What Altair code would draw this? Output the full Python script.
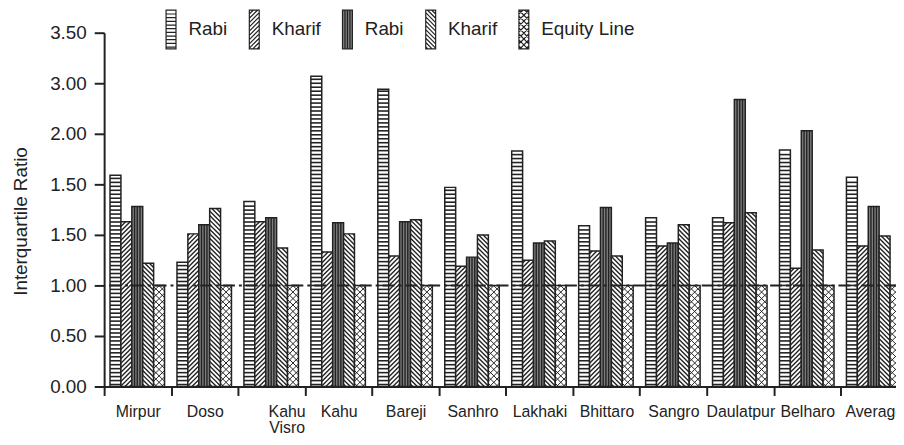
import json
import pandas as pd
import altair as alt

# ---------------- data ----------------
GROUPS = ["Mirpur", "Doso", "Kahu Visro", "Kahu", "Bareji", "Sanhro", "Lakhaki",
          "Bhittaro", "Sangro", "Daulatpur", "Belharo", "Average"]
SERIES_KEYS = ["Rabi 1", "Kharif 1", "Rabi 2", "Kharif 2", "Equity Line"]
LEGEND_LABELS = ["Rabi", "Kharif", "Rabi", "Kharif", "Equity Line"]

RABI_1 = [2.09, 1.23, 1.83, 3.07, 2.94, 1.97, 2.33, 1.59, 1.67, 1.67, 2.34, 2.07]
KHARIF_1 = [1.63, 1.51, 1.63, 1.33, 1.29, 1.19, 1.25, 1.34, 1.39, 1.62, 1.17, 1.39]
RABI_2 = [1.78, 1.60, 1.67, 1.62, 1.63, 1.28, 1.42, 1.77, 1.42, 2.84, 2.53, 1.78]
KHARIF_2 = [1.22, 1.76, 1.37, 1.51, 1.65, 1.50, 1.44, 1.29, 1.60, 1.72, 1.35, 1.49]
EQUITY = [1.00, 1.00, 1.00, 1.00, 1.00, 1.00, 1.00, 1.00, 1.00, 1.00, 1.00, 1.00]
EQUITY_LEVEL = [1.00]

Y_TICKS = [0.0, 0.5, 1.0, 1.5, 2.0, 2.5, 3.0, 3.5]
Y_LABELS = ["0.00", "0.50", "1.00", "1.50", "1.50", "2.00", "3.00", "3.50"]

ALL_SERIES = [RABI_1, KHARIF_1, RABI_2, KHARIF_2, EQUITY]

# ---------------- layout ----------------
PLOT_W, PLOT_H = 799, 357
Y_MAX = 3.5
STEP_PX = 67.55
X_MAX = PLOT_W / STEP_PX
PX_Y = PLOT_H / Y_MAX
BAR_PX = 11.0
BW = BAR_PX / STEP_PX
OFF = 0.088
INK = "#222222"


def diag_lines(xl, xr, ylo, yhi, rise, pitch, up):
    segs = []
    y0 = ylo - rise + pitch * 0.5
    while y0 < yhi:
        if up:
            ya, yb = y0, y0 + rise
        else:
            ya, yb = y0 + rise, y0
        dy = yb - ya
        t1 = (ylo - ya) / dy
        t2 = (yhi - ya) / dy
        lo = max(0.0, min(t1, t2))
        hi = min(1.0, max(t1, t2))
        if hi - lo > 1e-6:
            segs.append((xl + lo * (xr - xl), ya + lo * dy, xl + hi * (xr - xl), ya + hi * dy))
        y0 += pitch
    return segs


FILLS = {"Rabi 1": "#ffffff", "Kharif 1": "#ffffff", "Rabi 2": "#7e7e7e",
         "Kharif 2": "#ffffff", "Equity Line": "#ffffff"}

bars, strokes = [], []
for g, name in enumerate(GROUPS):
    for k, key in enumerate(SERIES_KEYS):
        v = ALL_SERIES[k][g]
        x0 = g + OFF + k * BW
        x1 = x0 + BW
        bars.append({"x": x0, "x2": x1, "y": v, "y2": 0.0, "series": key,
                     "group": name, "fillc": FILLS[key]})
        if key == "Rabi 1":
            p = 4.0 / PX_Y
            yy = p * 0.5
            while yy < v - p * 0.4:
                strokes.append({"x": x0, "x2": x1, "y": yy, "y2": yy, "w": 1.6})
                yy += p
        elif key in ("Kharif 1", "Kharif 2"):
            for s in diag_lines(x0, x1, 0.0, v, BAR_PX / PX_Y, 4.6 / PX_Y, key == "Kharif 1"):
                strokes.append({"x": s[0], "x2": s[2], "y": s[1], "y2": s[3], "w": 1.4})
        elif key == "Rabi 2":
            for f in (0.25, 0.5, 0.75):
                xx = x0 + f * BW
                strokes.append({"x": xx, "x2": xx, "y": 0.0, "y2": v, "w": 1.4})
        else:
            for up in (True, False):
                for s in diag_lines(x0, x1, 0.0, v, BAR_PX / PX_Y, 6.5 / PX_Y, up):
                    strokes.append({"x": s[0], "x2": s[2], "y": s[1], "y2": s[3], "w": 1.0})

bars_df = pd.DataFrame(bars)
strokes_df = pd.DataFrame(strokes)
level_df = pd.DataFrame({"y": EQUITY_LEVEL})

# ---------------- legend symbols (custom paths, 6 px per unit) ----------------
SYM_SIZE = 144          # sqrt(144)/2 = 6 px per path unit
U = 6.0


def fmt(a, b):
    return f"{a:.3f},{-b:.3f}"


def legend_path(kind):
    hw = 5.0 / U
    hh = 19.5 / U
    path = f"M{-hw:.3f},{-hh:.3f}H{hw:.3f}V{hh:.3f}H{-hw:.3f}Z"
    segs = []
    if kind == "h":
        p = 3.7 / U
        yy = -hh + p * 0.5
        while yy < hh - p * 0.3:
            segs.append((-hw, yy, hw, yy))
            yy += p
    elif kind in ("d_up", "d_down"):
        segs = diag_lines(-hw, hw, -hh, hh, 10.0 / U, 4.3 / U, kind == "d_up")
    elif kind == "v":
        for xx in (-0.5 * hw, 0.0, 0.5 * hw):
            segs.append((xx, -hh, xx, hh))
    else:
        segs = (diag_lines(-hw, hw, -hh, hh, 10.0 / U, 6.0 / U, True)
                + diag_lines(-hw, hw, -hh, hh, 10.0 / U, 6.0 / U, False))
    for s in segs:
        path += f" M{fmt(s[0], s[1])}L{fmt(s[2], s[3])}"
    return path


SHAPES = [legend_path(k) for k in ("h", "d_up", "v", "d_down", "x")]
FILL_RANGE = [FILLS[k] for k in SERIES_KEYS]

# ---------------- encodings ----------------
names_js = json.dumps(GROUPS)
ylab_js = json.dumps(Y_LABELS)

x_axis = alt.Axis(
    values=list(range(len(GROUPS))),
    labelExpr=f"split({names_js}[datum.value], ' ')",
    labelOffset={"condition": {"test": "datum.value == 2", "value": 49}, "value": 34},
    labelFlush=False, labelOverlap=False, labelPadding=8, labelFontSize=16,
    labelLineHeight=16, tickSize=9, tickWidth=2, domainWidth=2, grid=False, title=None,
)
y_axis = alt.Axis(
    values=Y_TICKS,
    labelExpr=f"{ylab_js}[round(datum.value * 2)]",
    labelFontSize=19, labelPadding=8, tickSize=10, tickWidth=2, domainWidth=2,
    grid=False, title="Interquartile Ratio", titleFontSize=19, titleFontWeight="normal",
    titleX=-84, titleY=190, titleBaseline="middle", titleAlign="center", titleAngle=-90,
)

X = alt.X("x:Q", scale=alt.Scale(domain=[0, X_MAX], nice=False, zero=False), axis=x_axis)
X2 = alt.X2("x2:Q")
Y = alt.Y("y:Q", scale=alt.Scale(domain=[0, Y_MAX], nice=False), axis=y_axis)
Y2 = alt.Y2("y2:Q")

legend = alt.Legend(
    orient="none", legendX=58, legendY=-13, direction="horizontal", columns=5,
    title=None, symbolSize=SYM_SIZE, labelOffset=8, columnPadding=17, padding=0,
    labelFontSize=19, symbolStrokeColor=INK, symbolStrokeWidth=1.2, symbolOpacity=1,
    labelExpr=f"{json.dumps(LEGEND_LABELS)}[indexof({json.dumps(SERIES_KEYS)}, datum.label)]",
)

bar_layer = alt.Chart(bars_df).mark_bar(stroke=INK, strokeWidth=1.5).encode(
    x=X, x2=X2, y=Y, y2=Y2, fill=alt.Fill("fillc:N", scale=None)
)
stripe_layer = alt.Chart(strokes_df).mark_rule(color=INK).encode(
    x=X, x2=X2, y=Y, y2=Y2, strokeWidth=alt.StrokeWidth("w:Q", scale=None)
)
equity_layer = alt.Chart(level_df).mark_rule(
    color=INK, strokeWidth=2, strokeDash=[12, 4, 3, 4]
).encode(y=Y)
legend_layer = alt.Chart(bars_df).mark_point(
    filled=True, size=SYM_SIZE, stroke=INK, strokeWidth=1.2
).encode(
    shape=alt.Shape("series:N", scale=alt.Scale(domain=SERIES_KEYS, range=SHAPES), legend=legend),
    fill=alt.Fill("series:N", scale=alt.Scale(domain=SERIES_KEYS, range=FILL_RANGE), legend=legend),
).transform_filter("false")

chart = alt.layer(bar_layer, stripe_layer, equity_layer, legend_layer).properties(
    width=PLOT_W, height=PLOT_H,
    autosize=alt.AutoSizeParams(type="none"),
    padding={"left": 97, "top": 23, "right": 0, "bottom": 49},
    background="white",
).configure(
    font="Liberation Sans",
).configure_view(stroke=None).configure_axis(
    labelColor=INK, titleColor=INK, domainColor=INK, tickColor=INK,
    labelFont="Liberation Sans", titleFont="Liberation Sans",
).configure_legend(labelColor=INK, labelFont="Liberation Sans")

chart.save("out.html", embed_options={"renderer": "svg", "actions": False})
